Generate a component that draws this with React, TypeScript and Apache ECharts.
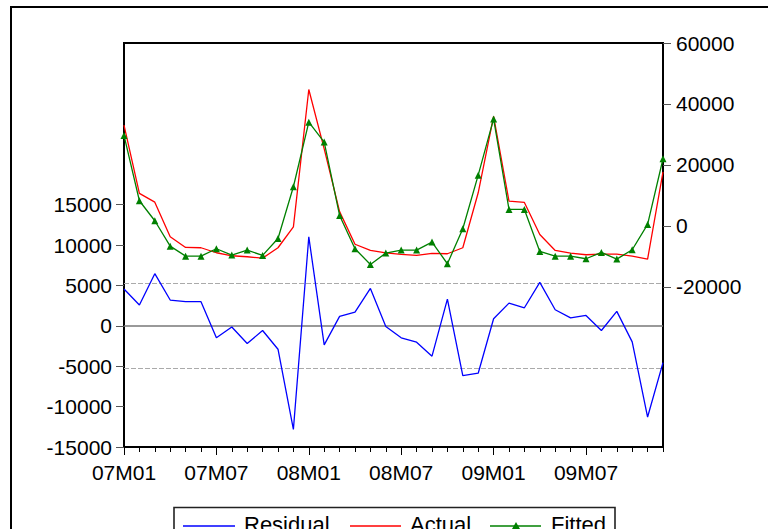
import React, { useEffect, useRef } from "react";
import * as echarts from "echarts";

// Monthly periods, 2007M01 .. 2009M12
const months: string[] = [
  "07M01", "07M02", "07M03", "07M04", "07M05", "07M06", "07M07", "07M08", "07M09", "07M10", "07M11", "07M12",
  "08M01", "08M02", "08M03", "08M04", "08M05", "08M06", "08M07", "08M08", "08M09", "08M10", "08M11", "08M12",
  "09M01", "09M02", "09M03", "09M04", "09M05", "09M06", "09M07", "09M08", "09M09", "09M10", "09M11", "09M12",
];

// Regression residuals (left axis)
const residual: number[] = [
  4550, 2570, 6450, 3190, 2980, 2980, -1490, -150, -2190, -580, -2900, -12820,
  11000, -2360, 1160, 1700, 4630, -80, -1490, -2030, -3760, 3310, -6160, -5870,
  870, 2810, 2230, 5370, 1985, 990, 1280, -580, 1780, -1990, -11290, -4550,
];

// Actual values (right axis)
const actual: number[] = [
  33100, 10660, 7800, -3540, -7050, -7150, -8790, -9780, -10100, -10560, -7150, -300,
  44760, 25300, 4700, -6000, -8030, -8850, -9350, -9670, -9020, -9120, -7150, 10880,
  35900, 8130, 7700, -2800, -8030, -8900, -9450, -9250, -9250, -9900, -10870, 17700,
];

// Fitted values (right axis)
const fitted: number[] = [
  29700, 8260, 1700, -6620, -9900, -9900, -7480, -9570, -7930, -9670, -4100, 12850,
  34040, 27500, 3440, -7480, -12620, -8900, -7930, -7930, -5300, -12400, -920, 16660,
  35100, 5410, 5410, -8360, -9900, -9900, -10760, -8690, -10870, -7820, 490, 22030,
];

const leftTicks: number[] = [-15000, -10000, -5000, 0, 5000, 10000, 15000];
const rightTicks: number[] = [-20000, 0, 20000, 40000, 60000];
const residualBand = 5250; // ±1 standard error of the regression

const FONT = "'Liberation Sans', Arial, Helvetica, sans-serif";
const plain = (v: number) => String(v);

export default function App() {
  const ref = useRef<HTMLDivElement>(null);

  useEffect(() => {
    if (!ref.current) return;
    const chart = echarts.init(ref.current, undefined, { renderer: "svg" });

    const legendY = 526;
    const option: echarts.EChartsOption = {
      animation: false,
      backgroundColor: "#ffffff",
      grid: {
        left: 124,
        right: 105,
        top: 43,
        bottom: 82,
        show: true,
        borderColor: "#000",
        borderWidth: 2,
        backgroundColor: "transparent",
      },
      xAxis: [
        {
          type: "category",
          data: months,
          boundaryGap: false,
          axisLine: { onZero: false, lineStyle: { color: "#000", width: 2 } },
          axisTick: { interval: 0, length: 5, lineStyle: { color: "#000", width: 1 } },
          axisLabel: {
            interval: 5,
            margin: 15,
            color: "#000",
            fontSize: 21,
            fontFamily: FONT,
          },
          splitLine: { show: false },
        },
        {
          type: "category",
          data: months,
          position: "bottom",
          boundaryGap: false,
          axisLine: { show: false, onZero: false },
          axisTick: { interval: 5, length: 8, lineStyle: { color: "#000", width: 1 } },
          axisLabel: { show: false },
          splitLine: { show: false },
        },
      ],
      yAxis: [
        {
          type: "value",
          position: "left",
          min: -15000,
          max: 35000,
          axisLine: { show: true, onZero: false, lineStyle: { color: "#000", width: 2 } },
          axisTick: {
            show: true,
            length: 8,
            customValues: leftTicks,
            lineStyle: { color: "#555", width: 1 },
          },
          axisLabel: {
            customValues: leftTicks,
            formatter: plain,
            margin: 12,
            color: "#000",
            fontSize: 21,
            fontFamily: FONT,
          },
          splitLine: { show: false },
        },
        {
          type: "value",
          position: "right",
          min: -72500,
          max: 60000,
          axisLine: { show: true, onZero: false, lineStyle: { color: "#000", width: 2 } },
          axisTick: {
            show: true,
            length: 8,
            customValues: rightTicks,
            lineStyle: { color: "#555", width: 1 },
          },
          axisLabel: {
            customValues: rightTicks,
            formatter: plain,
            margin: 13,
            color: "#000",
            fontSize: 21,
            fontFamily: FONT,
          },
          splitLine: { show: false },
        },
      ],
      series: [
        {
          name: "Residual",
          type: "line",
          xAxisIndex: 0,
          yAxisIndex: 0,
          data: residual,
          symbol: "none",
          lineStyle: { color: "#0000ff", width: 1.3 },
          z: 3,
          markLine: {
            silent: true,
            symbol: "none",
            label: { show: false },
            data: [
              { yAxis: 0, lineStyle: { color: "#777", width: 1.6, type: "solid" } },
              { yAxis: residualBand, lineStyle: { color: "#aaa", width: 1.2, type: [5, 2] } },
              { yAxis: -residualBand, lineStyle: { color: "#aaa", width: 1.2, type: [5, 2] } },
            ],
            z: 1,
          },
        },
        {
          name: "Actual",
          type: "line",
          xAxisIndex: 0,
          yAxisIndex: 1,
          data: actual,
          symbol: "none",
          lineStyle: { color: "#ff0000", width: 1.3 },
          z: 4,
        },
        {
          name: "Fitted",
          type: "line",
          xAxisIndex: 0,
          yAxisIndex: 1,
          data: fitted,
          symbol: "triangle",
          symbolSize: 7,
          showSymbol: true,
          itemStyle: { color: "#008000" },
          lineStyle: { color: "#008000", width: 1.3 },
          z: 5,
        },
      ],
      graphic: [
        {
          type: "rect",
          silent: true,
          shape: { x: 11, y: 7, width: 800, height: 600 },
          style: { fill: "none", stroke: "#000", lineWidth: 2 },
        },
        {
          type: "rect",
          silent: true,
          shape: { x: 174, y: 507.5, width: 441, height: 40 },
          style: { fill: "#fff", stroke: "#222", lineWidth: 1.6 },
        },
        {
          type: "line",
          silent: true,
          shape: { x1: 183, y1: legendY, x2: 235, y2: legendY },
          style: { stroke: "#0000ff", lineWidth: 1.3 },
        },
        {
          type: "text",
          silent: true,
          x: 244,
          y: 513,
          style: { text: "Residual", fill: "#000", fontSize: 22, fontFamily: FONT, verticalAlign: "top" },
        },
        {
          type: "line",
          silent: true,
          shape: { x1: 350, y1: legendY, x2: 401, y2: legendY },
          style: { stroke: "#ff0000", lineWidth: 1.3 },
        },
        {
          type: "text",
          silent: true,
          x: 410,
          y: 513,
          style: { text: "Actual", fill: "#000", fontSize: 22, fontFamily: FONT, verticalAlign: "top" },
        },
        {
          type: "line",
          silent: true,
          shape: { x1: 490, y1: legendY, x2: 541, y2: legendY },
          style: { stroke: "#008000", lineWidth: 1.3 },
        },
        {
          type: "polygon",
          silent: true,
          shape: { points: [[516, legendY - 4], [512, legendY + 3], [520, legendY + 3]] },
          style: { fill: "#008000" },
        },
        {
          type: "text",
          silent: true,
          x: 551,
          y: 513,
          style: { text: "Fitted", fill: "#000", fontSize: 22, fontFamily: FONT, verticalAlign: "top" },
        },
      ],
    };

    chart.setOption(option);
    return () => chart.dispose();
  }, []);

  return (
    <div
      ref={ref}
      style={{ position: "absolute", left: 0, top: 0, width: 768, height: 529, background: "#fff" }}
    />
  );
}
